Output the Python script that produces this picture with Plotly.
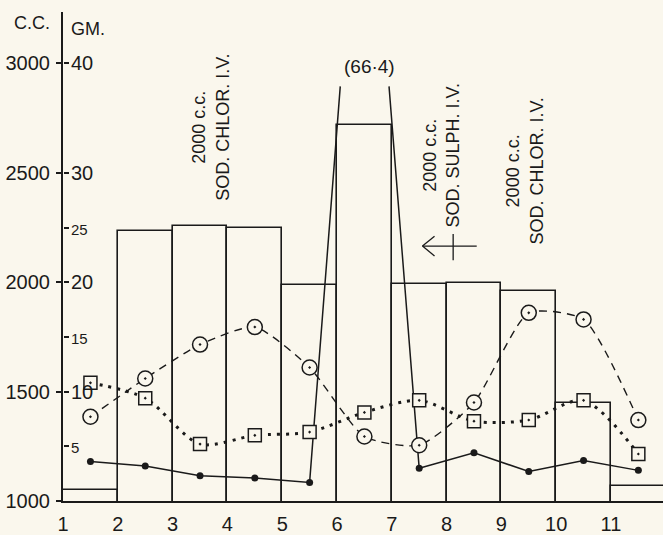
import plotly.graph_objects as go

# ---------------- data ----------------
days = [1, 2, 3, 4, 5, 6, 7, 8, 9, 10, 11]
x_tick_labels = ["1", "2", "3", "4", "5", "6", "7", "8", "9", "10", "11"]
bar_cc = [1050, 2235, 2255, 2250, 1985, 2720, 1990, 1995, 1960, 1450, 1070]
solid_gm = [3.6, 3.2, 2.3, 2.1, 1.7, 66.4, 3.0, 4.4, 2.7, 3.7, 2.8]
circle_gm = [7.7, 11.2, 14.3, 15.9, 12.2, 5.9, 5.1, 9.0, 17.2, 16.6, 7.4]
square_gm = [10.8, 9.4, 5.2, 6.0, 6.3, 8.1, 9.2, 7.3, 7.4, 9.2, 4.3]
cc_ticks = [1000, 1500, 2000, 2500, 3000]
gm_ticks = [5, 10, 15, 20, 25, 30, 40]
gm_small = [5, 15, 25]
off_scale_label = "(66·4)"
notes = [
    "2000 c.c.<br>SOD. CHLOR. I.V.",
    "2000 c.c.<br>SOD. SULPH. I.V.",
    "2000 c.c.<br>SOD. CHLOR. I.V.",
]

# ---------------- style ----------------
BG = "#faf7ed"
INK = "#1a1a1a"
FONT = "Liberation Sans"
GM_TOP = 44.7          # top of the GM scale shown
CC_BASE = 1000         # 1000 c.c. == 0 GM
CC_PER_GM = 50         # 3000 c.c. == 40 GM
CAP = 37.9             # level at which the off-scale line is cut

mid = [d + 0.5 for d in days]


def clip_series(xs, ys, cap):
    ox, oy = [], []
    n = len(xs)
    for i, (x, y) in enumerate(zip(xs, ys)):
        if y <= cap:
            ox.append(x)
            oy.append(y)
        else:
            if i > 0 and ys[i - 1] <= cap:
                x0, y0 = xs[i - 1], ys[i - 1]
                t = (cap - y0) / (y - y0)
                ox.append(x0 + t * (x - x0))
                oy.append(cap)
            ox.append(None)
            oy.append(None)
            if i < n - 1 and ys[i + 1] <= cap:
                x1, y1 = xs[i + 1], ys[i + 1]
                t = (cap - y) / (y1 - y)
                ox.append(x + t * (x1 - x))
                oy.append(cap)
    return ox, oy


fig = go.Figure()

# histogram of volumes (c.c. scale, y)
fig.add_trace(go.Bar(
    x=mid, y=bar_cc, width=1,
    marker=dict(color=BG, line=dict(color=INK, width=1.6)),
    hoverinfo="skip",
))

# GM curves (y2, drawn above the bars)
fig.add_trace(go.Scatter(
    x=mid, y=square_gm, mode="lines", yaxis="y2",
    line=dict(color=INK, width=3, dash="3px,6px", shape="spline", smoothing=0.8),
    hoverinfo="skip",
))
fig.add_trace(go.Scatter(
    x=mid, y=circle_gm, mode="lines", yaxis="y2",
    line=dict(color=INK, width=1.4, dash="8px,6px", shape="spline", smoothing=0.6),
    hoverinfo="skip",
))
sx, sy = clip_series(mid, solid_gm, CAP)
fig.add_trace(go.Scatter(
    x=sx, y=sy, mode="lines", yaxis="y2",
    line=dict(color=INK, width=1.5), hoverinfo="skip",
))
fig.add_trace(go.Scatter(
    x=mid, y=solid_gm, mode="markers", yaxis="y2",
    marker=dict(color=INK, size=7), hoverinfo="skip",
))
fig.add_trace(go.Scatter(
    x=mid, y=square_gm, mode="markers", yaxis="y2",
    marker=dict(symbol="square-dot", size=13, color=BG,
                line=dict(color=INK, width=1.5)),
    hoverinfo="skip",
))
fig.add_trace(go.Scatter(
    x=mid, y=circle_gm, mode="markers", yaxis="y2",
    marker=dict(symbol="circle-dot", size=15, color=BG,
                line=dict(color=INK, width=1.5)),
    hoverinfo="skip",
))

gm_text = [
    (f"<span style='font-size:15px'>{v}</span>" if v in gm_small else str(v))
    for v in gm_ticks
]

annotations = [
    dict(x=-0.052, y=0.978, xref="paper", yref="paper", text="C.C.", showarrow=False,
         xanchor="center", yanchor="middle",
         font=dict(size=18, color=INK, family=FONT)),
    dict(x=0.042, y=0.966, xref="paper", yref="paper", text="GM.", showarrow=False,
         xanchor="center", yanchor="middle",
         font=dict(size=18, color=INK, family=FONT)),
    dict(x=6.6, y=39.7, xref="x", yref="y2", text=off_scale_label, showarrow=False,
         font=dict(size=19, color=INK, family=FONT)),
]
for (nx, ny), txt in zip([(3.70, 34.2), (7.90, 31.6), (9.43, 30.2)], notes):
    annotations.append(dict(
        x=nx, y=ny, xref="x", yref="y2", text=txt, showarrow=False,
        textangle=-90, align="center",
        font=dict(size=18, color=INK, family=FONT),
    ))

shapes = [
    # arrow pointing left
    dict(type="line", xref="x", yref="y2", x0=7.56, x1=8.55, y0=23.3, y1=23.3,
         line=dict(color=INK, width=1.3)),
    dict(type="line", xref="x", yref="y2", x0=7.56, x1=7.78, y0=23.3, y1=24.2,
         line=dict(color=INK, width=1.3)),
    dict(type="line", xref="x", yref="y2", x0=7.56, x1=7.78, y0=23.3, y1=22.4,
         line=dict(color=INK, width=1.3)),
    dict(type="line", xref="x", yref="y2", x0=8.12, x1=8.12, y0=22.0, y1=24.4,
         line=dict(color=INK, width=1.3)),
]

fig.update_layout(
    width=663, height=535,
    margin=dict(l=63, r=0, t=12, b=31),
    paper_bgcolor=BG, plot_bgcolor=BG,
    showlegend=False, bargap=0,
    font=dict(family=FONT, color=INK, size=18),
    annotations=annotations, shapes=shapes,
    xaxis=dict(
        range=[0.999, 11.95], tickvals=days, ticktext=x_tick_labels,
        showline=True, linecolor=INK, linewidth=1.6, ticks="",
        showgrid=False, zeroline=False, ticklabelstandoff=4,
        tickfont=dict(size=20, family=FONT, color=INK),
    ),
    yaxis=dict(
        range=[CC_BASE, CC_BASE + CC_PER_GM * GM_TOP], side="left",
        tickvals=cc_ticks, ticks="outside", ticklen=5, tickwidth=1.5,
        tickcolor=INK, showline=True, linecolor=INK, linewidth=2,
        showgrid=False, zeroline=False, ticklabelstandoff=2,
        tickfont=dict(size=20, family=FONT, color=INK),
    ),
    yaxis2=dict(
        range=[0, GM_TOP], overlaying="y", side="right", anchor="free", position=0,
        tickvals=gm_ticks, ticktext=gm_text,
        ticks="outside", ticklen=5, tickwidth=1.5, tickcolor=INK,
        showline=False, showgrid=False, zeroline=False, ticklabelstandoff=-2,
        tickfont=dict(size=20, family=FONT, color=INK),
    ),
)

fig.write_html(
    "out.html",
    config={"displayModeBar": False},
    post_script="document.body.style.margin='0';document.body.style.padding='0';",
)
